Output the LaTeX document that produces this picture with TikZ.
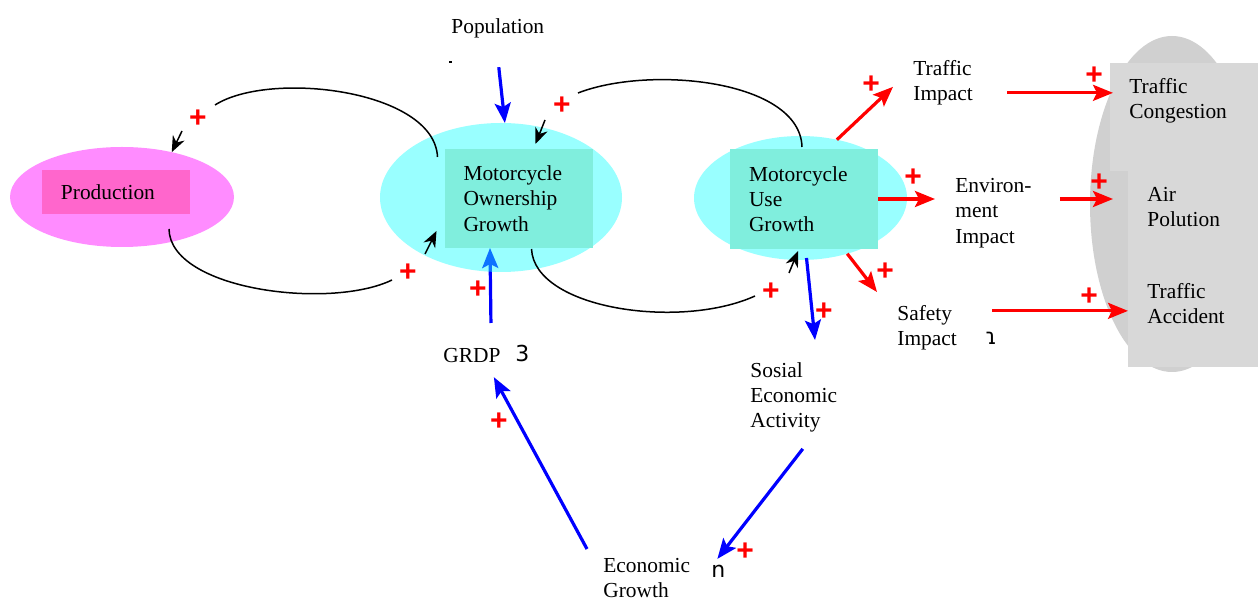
\documentclass[tikz,border=0pt]{standalone}
\usepackage{fontspec}
\setmainfont{Liberation Serif}
\setsansfont{Liberation Sans}
\newfontfamily\glyphfont{DejaVu Sans}
\usetikzlibrary{arrows.meta, calc, shapes.geometric}

\definecolor{prodpink}{RGB}{255,140,255}
\definecolor{prodbox}{RGB}{255,102,204}
\definecolor{growcyan}{RGB}{153,255,255}
\definecolor{growglass}{RGB}{29,255,255}
\definecolor{growbox}{RGB}{128,238,221}
\definecolor{impactgrey}{RGB}{208,208,208}
\definecolor{impactbox}{RGB}{216,216,216}

\pgfdeclarelayer{under}
\pgfsetlayers{under,main}

\tikzset{
  blob/.style={ellipse, inner sep=0pt, outer sep=0pt},
  varbox/.style={rectangle, inner xsep=9.5pt, inner ysep=0pt, outer sep=0pt,
    align=left, text width=55pt, minimum width=74pt},
  greybox/.style={rectangle, fill=impactbox, inner sep=0pt, outer sep=0pt, minimum width=74pt},
  lbl/.style={anchor=north west, inner sep=0pt, align=left},
  oddglyph/.style={anchor=south west, inner sep=0pt, font=\glyphfont\fontsize{11}{12}\selectfont},
  posmark/.style={text=red, inner sep=0pt, font=\sffamily\bfseries\fontsize{15}{15}\selectfont},
  fbcurve/.style={black, line width=0.75pt},
  fbhead/.style={fbcurve, -{Stealth[length=8pt, width=6.5pt]}},
  link/.style={line width=1.6pt, -{Stealth[length=10pt, width=8pt, inset=2pt]}},
}

\begin{document}
\begin{tikzpicture}[x=0.5pt, y=-0.5pt, font=\fontsize{10.7}{12.65}\selectfont]
  \useasboundingbox (0,0) rectangle (1258,603);

  % variables
  \node[blob, fill=prodpink, minimum width=112pt, minimum height=50pt] (prodE) at (122,197) {};
  \node[varbox, fill=prodbox, minimum height=22pt] (prod) at (116,192) {Production};

  \node[blob, fill=growglass, fill opacity=0.45, minimum width=121pt, minimum height=74.5pt] (mogE) at (501,197.5) {};
  \fill[white] (376,248) rectangle (412,264);
  \node[varbox, fill=growbox, minimum height=49.5pt] (mog) at (518.5,198.5) {Motorcycle\\Ownership\\Growth};

  \node[blob, fill=growcyan, minimum width=106.5pt, minimum height=62pt] (mugE) at (800.5,198) {};
  \node[varbox, fill=growbox, minimum height=50pt] (mug) at (804,199) {Motorcycle\\Use\\Growth};

  \node[blob, fill=impactgrey, minimum width=82pt, minimum height=168pt] (impE) at (1172,204) {};
  \node[greybox, minimum height=54pt] (cong) at (1184,117) {};
  \node[greybox, minimum height=49pt] (air) at (1202,220) {};
  \node[greybox, minimum height=49pt] (acc) at (1202,318) {};
  \node[lbl] (congtxt) at ($(cong.north west)+(19,15)$) {Traffic\\Congestion};
  \node[lbl] (airtxt) at ($(air.north west)+(19,16)$) {Air\\Polution};
  \node[lbl] (acctxt) at ($(acc.north west)+(19,14)$) {Traffic\\Accident};

  \node[lbl] (pop) at (451,18) {Population};
  \node[lbl] (timp) at (913,60) {Traffic\\Impact};
  \node[lbl] (eimp) at (955,178) {Environ-\\ment\\Impact};
  \node[lbl] (simp) at (897,305) {Safety\\Impact};
  \node[lbl] (grdp) at (443,348) {GRDP};
  \node[lbl] (sea) at (750,362) {Sosial\\Economic\\Activity};
  \node[lbl] (eg) at (603,558) {Economic\\Growth};

  \node[oddglyph] (grdpmark) at (515,362) {3};
  \node[oddglyph] (egmark) at (711,578) {n};
  \node[oddglyph] (simpmark) at (985,345) {ɿ};
  \fill (449,61) rectangle (452,63);

  % loops between production, ownership and use
  \coordinate (topgapL) at (215,105);
  \coordinate (topheadL) at (182,131);
  \draw[fbcurve] ($(mog.north west)+(-7,8)$) .. controls +(-3,-67) and +(55,-35) .. (topgapL);
  \draw[fbhead] (topheadL) -- (prodE.42);

  \coordinate (botgapL) at (392,280);
  \coordinate (botheadL) at (425,254);
  \draw[fbcurve] ($(prodE.south)+(47,-18)$) .. controls +(1,61) and +(-62,30) .. (botgapL);
  \draw[fbhead] (botheadL) -- ($(mog.south west)+(-8,-17)$);

  \coordinate (topgapR) at (578,93);
  \coordinate (topheadR) at (545,120);
  \draw[fbcurve] ($(mug.north)+(-2,-2)$) .. controls +(-2,-67) and +(72,-28) .. (topgapR);
  \draw[fbhead] (topheadR) -- ($(mog.north)+(17,-5)$);

  \coordinate (botgapR) at (755,296);
  \coordinate (botheadR) at (789,273);
  \draw[fbcurve] ($(mog.south)+(13,1)$) .. controls +(3,60) and +(-75,34) .. (botgapR);
  \draw[fbhead] (botheadR) -- ($(mug.south)+(-6,2)$);

  % economic links
  \draw[link, blue] ($(pop.south)+(1,29)$) -- (mogE.87);
  \begin{pgfonlayer}{under}
    \draw[link, blue] ($(grdp.north)+(19,-25)$) -- ($(mog.south)+(-28.5,0)$);
  \end{pgfonlayer}
  \draw[link, blue] ($(mugE.south)+(6,-2)$) -- ($(sea.north west)+(65,-22)$);
  \draw[link, blue] ($(sea.south)+(9,16)$) -- ($(egmark.north)+(-1,-6)$);
  \draw[link, blue] ($(eg.north west)+(-16,-9)$) -- ($(grdp.south east)+(-7,14)$);

  % impacts
  \draw[link, red] (mugE.58) -- ($(timp.west)+(-20,4)$);
  \draw[link, red] (mug.east) -- ([xshift=-10pt]eimp.west |- mug.east);
  \draw[link, red] (mugE.-50) -- ($(simp.north west)+(-20,-13)$);
  \coordinate (timpout) at ($(timp.east)+(34,10)$);
  \draw[link, red] (timpout) -- ([xshift=1.5pt]cong.west |- timpout);
  \draw[link, red] ([xshift=14pt]eimp.east |- mug.east) -- ([xshift=-7.5pt]air.west |- mug.east);
  \coordinate (simpout) at ($(simp.east)+(35,-17)$);
  \draw[link, red] (simpout) -- (acc.west |- simpout);

  % polarity signs
  \node[posmark] (s1) at (198,119) {+};
  \node[posmark] (s2) at (408,273) {+};
  \node[posmark] (s3) at (562,106) {+};
  \node[posmark] (s4) at (771,292) {+};
  \node[posmark] (s5) at (478,290) {+};
  \node[posmark] (s6) at (824,312) {+};
  \node[posmark] (s7) at (745,552) {+};
  \node[posmark] (s8) at (499,422) {+};
  \node[posmark] (s9) at (871,85) {+};
  \node[posmark] (s10) at (913,178) {+};
  \node[posmark] (s11) at (885,272) {+};
  \node[posmark] (s12) at (1094,76) {+};
  \node[posmark] (s13) at (1099,183) {+};
  \node[posmark] (s14) at (1089,297) {+};
\end{tikzpicture}
\end{document}
